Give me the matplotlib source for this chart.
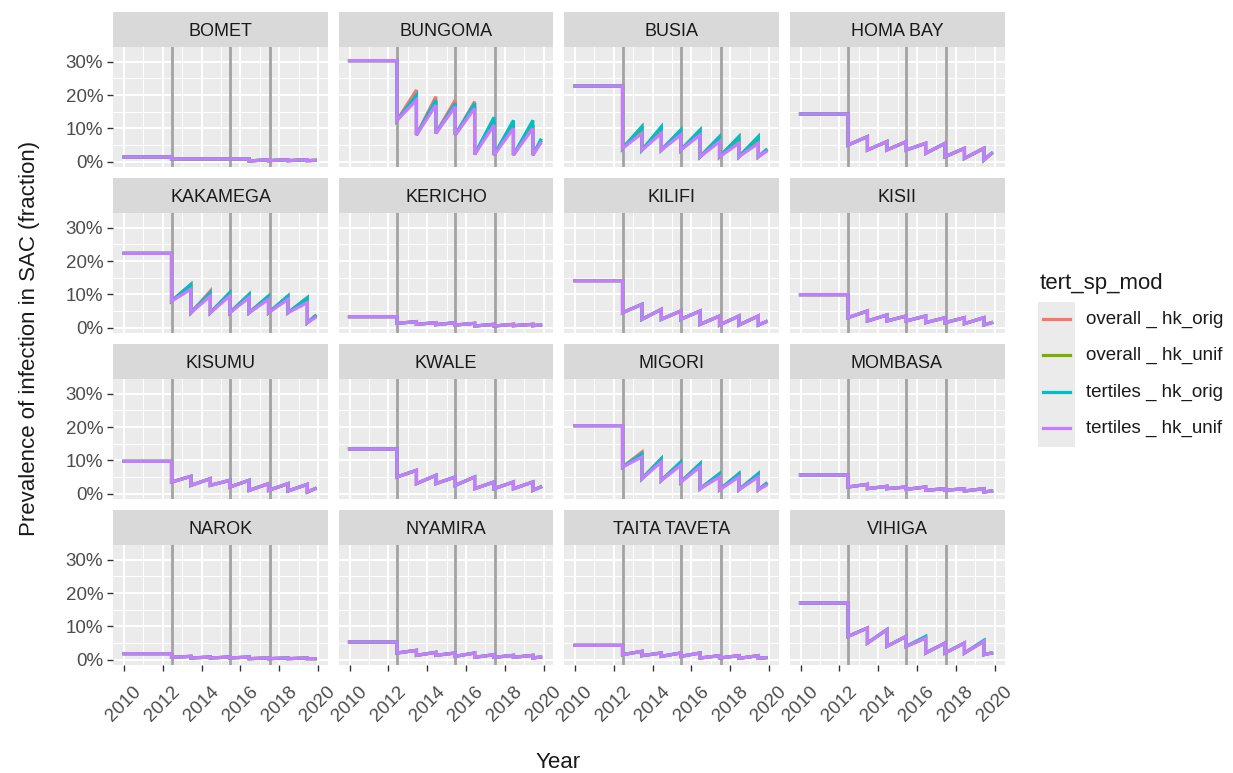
import numpy as np
import matplotlib.pyplot as plt
from matplotlib.lines import Line2D
from matplotlib.patches import Rectangle
import matplotlib.ticker as mticker

plt.rcParams['font.family'] = ['Liberation Sans', 'DejaVu Sans']

districts = ["BOMET", "BUNGOMA", "BUSIA", "HOMA BAY",
             "KAKAMEGA", "KERICHO", "KILIFI", "KISII",
             "KISUMU", "KWALE", "MIGORI", "MOMBASA",
             "NAROK", "NYAMIRA", "TAITA TAVETA", "VIHIGA"]

# yearly treatment rounds, end of simulation, highlighted years
rounds = [2012.45, 2013.45, 2014.45, 2015.45, 2016.45, 2017.45, 2018.45, 2019.45]
t_start, t_end = 2010.0, 2019.85
vlines = [2012.45, 2015.45, 2017.5]

# prevalence (%) before first round
pre_level = {
    "BOMET": 1.4, "BUNGOMA": 30.3, "BUSIA": 22.7, "HOMA BAY": 14.3,
    "KAKAMEGA": 22.3, "KERICHO": 3.3, "KILIFI": 14.1, "KISII": 9.9,
    "KISUMU": 9.7, "KWALE": 13.4, "MIGORI": 20.4, "MOMBASA": 5.6,
    "NAROK": 1.8, "NYAMIRA": 5.3, "TAITA TAVETA": 4.3, "VIHIGA": 17.0,
}

# prevalence (%) just after each round
troughs = {
    "BOMET":        [0.8, 0.8, 0.8, 0.8, 0.2, 0.3, 0.3, 0.3],
    "BUNGOMA":      [12.4, 8.0, 8.5, 8.0, 2.2, 2.0, 2.0, 2.0],
    "BUSIA":        [4.0, 3.5, 3.5, 3.5, 1.5, 1.5, 1.5, 1.5],
    "HOMA BAY":     [5.0, 3.5, 3.5, 3.5, 2.5, 1.5, 1.0, 0.5],
    "KAKAMEGA":     [8.0, 4.5, 4.5, 4.5, 4.5, 4.5, 4.5, 1.5],
    "KERICHO":      [1.3, 1.0, 0.9, 0.8, 0.5, 0.5, 0.6, 0.6],
    "KILIFI":       [4.5, 2.5, 2.5, 2.5, 1.0, 0.8, 0.8, 0.8],
    "KISII":        [3.0, 2.0, 2.0, 2.0, 1.5, 1.5, 1.2, 0.8],
    "KISUMU":       [3.5, 2.5, 2.5, 2.0, 1.0, 1.0, 0.8, 0.5],
    "KWALE":        [5.0, 3.0, 3.0, 2.5, 1.5, 1.5, 1.5, 1.0],
    "MIGORI":       [8.0, 4.5, 4.0, 3.5, 1.5, 1.2, 1.2, 1.2],
    "MOMBASA":      [2.0, 1.5, 1.5, 1.3, 1.0, 1.0, 0.8, 0.5],
    "NAROK":        [0.7, 0.5, 0.5, 0.5, 0.3, 0.3, 0.3, 0.3],
    "NYAMIRA":      [2.0, 1.3, 1.3, 1.0, 0.7, 0.7, 0.7, 0.5],
    "TAITA TAVETA": [1.5, 1.2, 1.0, 1.0, 0.5, 0.5, 0.4, 0.4],
    "VIHIGA":       [7.0, 5.0, 4.0, 4.0, 2.0, 2.0, 2.0, 1.5],
}

# prevalence (%) just before the next round (last value = end of 2019)
peaks_tert_unif = {
    "BOMET":        [0.8, 0.8, 0.8, 0.8, 0.6, 0.6, 0.6, 0.4],
    "BUNGOMA":      [18.5, 17.0, 16.5, 16.0, 11.0, 10.0, 10.0, 5.5],
    "BUSIA":        [8.5, 8.5, 8.0, 8.0, 6.0, 5.5, 5.5, 3.0],
    "HOMA BAY":     [7.5, 6.0, 6.0, 5.5, 5.5, 4.0, 4.0, 2.5],
    "KAKAMEGA":     [11.5, 9.5, 9.5, 9.0, 8.5, 8.5, 7.5, 3.0],
    "KERICHO":      [1.8, 1.5, 1.5, 1.3, 1.0, 1.0, 1.0, 0.8],
    "KILIFI":       [7.0, 5.5, 5.0, 5.0, 3.5, 3.5, 3.5, 1.8],
    "KISII":        [5.0, 3.8, 3.5, 3.5, 3.0, 3.0, 3.0, 1.5],
    "KISUMU":       [5.2, 4.5, 4.0, 4.0, 3.0, 3.0, 2.8, 1.5],
    "KWALE":        [7.0, 5.5, 5.0, 5.0, 3.5, 3.5, 3.5, 2.0],
    "MIGORI":       [11.0, 9.5, 8.5, 8.0, 5.0, 5.0, 5.0, 2.5],
    "MOMBASA":      [2.8, 2.2, 2.0, 2.0, 1.5, 1.5, 1.5, 0.8],
    "NAROK":        [1.0, 0.8, 0.8, 0.8, 0.5, 0.5, 0.5, 0.3],
    "NYAMIRA":      [2.8, 2.2, 2.0, 2.0, 1.5, 1.3, 1.3, 0.8],
    "TAITA TAVETA": [2.5, 2.0, 2.0, 2.0, 1.2, 1.2, 1.2, 0.6],
    "VIHIGA":       [9.5, 9.0, 7.0, 6.5, 5.0, 5.0, 5.5, 2.0],
}
# districts where the other scenarios peak visibly higher
peaks_overall_orig = {
    "BUNGOMA":  [21.5, 19.5, 18.5, 18.0, 13.0, 11.5, 11.0, 6.0],
    "BUSIA":    [10.5, 10.0, 9.5, 9.5, 7.5, 7.5, 7.5, 3.5],
    "KAKAMEGA": [13.0, 11.0, 10.5, 10.0, 9.5, 9.5, 9.0, 3.5],
    "MIGORI":   [12.5, 10.5, 9.5, 9.0, 6.0, 6.0, 6.0, 3.0],
}
peaks_overall_unif = {
    "BUNGOMA":  [19.5, 18.0, 17.0, 16.5, 12.0, 11.0, 11.0, 6.0],
    "BUSIA":    [9.5, 9.0, 8.5, 8.5, 6.5, 6.5, 6.5, 3.2],
    "KAKAMEGA": [12.0, 10.0, 10.0, 9.5, 9.0, 9.0, 8.0, 3.2],
    "MIGORI":   [11.5, 10.0, 9.0, 8.5, 5.5, 5.5, 5.5, 2.8],
}
peaks_tert_orig = {
    "BUNGOMA":  [20.0, 18.5, 17.5, 17.5, 13.3, 12.4, 12.4, 6.5],
    "BUSIA":    [10.5, 10.5, 9.5, 9.5, 7.5, 7.5, 7.5, 3.5],
    "KAKAMEGA": [13.0, 10.5, 10.5, 10.0, 9.5, 9.5, 9.0, 3.5],
    "MIGORI":   [12.0, 10.5, 9.5, 9.0, 6.0, 6.0, 6.0, 3.0],
    "VIHIGA":   [9.5, 9.0, 7.0, 7.0, 5.0, 5.0, 5.8, 2.0],
}

series = [("overall _ hk_orig", peaks_overall_orig, "#F8766D"),
          ("overall _ hk_unif", peaks_overall_unif, "#7CAE00"),
          ("tertiles _ hk_orig", peaks_tert_orig, "#00BFC4"),
          ("tertiles _ hk_unif", peaks_tert_unif, "#C77CFF")]


def build(pre, tr, pk):
    x = [t_start, rounds[0]]
    y = [pre, pre]
    for i, r in enumerate(rounds):
        nxt = rounds[i + 1] if i + 1 < len(rounds) else t_end
        x += [r, nxt]
        y += [tr[i], pk[i]]
    return np.array(x), np.array(y) / 100


W, H = 1233, 773
fig = plt.figure(figsize=(W / 100, H / 100), dpi=100)

col_left = [113, 338.5, 564, 789.5]
pw, ph, sh = 215, 120, 35


def fx(px):
    return px / W


def fy(py):
    return 1 - py / H


for i, d in enumerate(districts):
    r, c = divmod(i, 4)
    top = 12 + 166 * r
    left = col_left[c]

    sax = fig.add_axes([fx(left), fy(top + sh), fx(pw), sh / H])
    sax.set_facecolor("#d9d9d9")
    sax.set_xticks([]); sax.set_yticks([])
    for s in sax.spines.values():
        s.set_visible(False)
    sax.text(0.5, 0.45, d, ha="center", va="center", fontsize=13, color="#1a1a1a",
             transform=sax.transAxes)

    ax = fig.add_axes([fx(left), fy(top + sh + ph), fx(pw), ph / H])
    ax.set_facecolor("#ebebeb")
    for s in ax.spines.values():
        s.set_visible(False)
    ax.set_xlim(2009.433, 2020.515)
    ax.set_ylim(-0.016, 0.344)
    ax.set_xticks(range(2010, 2021, 2))
    ax.set_xticks(range(2011, 2021, 2), minor=True)
    ax.set_yticks([0, 0.1, 0.2, 0.3])
    ax.set_yticks([0.05, 0.15, 0.25], minor=True)
    ax.yaxis.set_major_formatter(mticker.PercentFormatter(1.0, decimals=0))
    ax.grid(which="major", color="white", lw=1.4)
    ax.grid(which="minor", color="white", lw=0.7)
    ax.set_axisbelow(True)
    ax.tick_params(which="minor", length=0)
    ax.tick_params(which="major", length=4, width=1, color="#333333",
                   labelcolor="#4d4d4d", labelsize=13.5, pad=3)
    if r < 3:
        ax.tick_params(axis="x", labelbottom=False, length=0)
    else:
        ax.tick_params(axis="x", pad=9)
        plt.setp(ax.get_xticklabels(), rotation=45, ha="center", va="top")
    if c > 0:
        ax.tick_params(axis="y", labelleft=False, length=0)

    for v in vlines:
        ax.axvline(v, color="#a3a3a3", lw=2, zorder=1.5)

    for name, pk, col in series:
        x, y = build(pre_level[d], troughs[d], pk.get(d, peaks_tert_unif[d]))
        ax.plot(x, y, color=col, lw=2.3, solid_joinstyle="miter", zorder=2)

fig.text(fx(30), fy(338), "Prevalence of infection in SAC (fraction)", rotation=90,
         ha="center", va="center", fontsize=16, color="#1a1a1a")
fig.text(fx(558), fy(762), "Year", ha="center", va="center", fontsize=16, color="#1a1a1a")

# legend
fig.text(fx(1040), fy(289), "tert_sp_mod", ha="left", va="baseline", fontsize=16, color="#1a1a1a")
fig.add_artist(Rectangle((fx(1038), fy(447)), fx(37), 145 / H, transform=fig.transFigure,
                         facecolor="#ebebeb", edgecolor="none"))
key_y = [319, 355, 392, 428]
for (name, pk, col), ky in zip(series, key_y):
    fig.add_artist(Line2D([fx(1043), fx(1070)], [fy(ky), fy(ky)], color=col, lw=2.3,
                          transform=fig.transFigure))
    fig.text(fx(1086), fy(ky), name, ha="left", va="center", fontsize=13.5, color="#1a1a1a")

fig.savefig("out.png", dpi=100)
